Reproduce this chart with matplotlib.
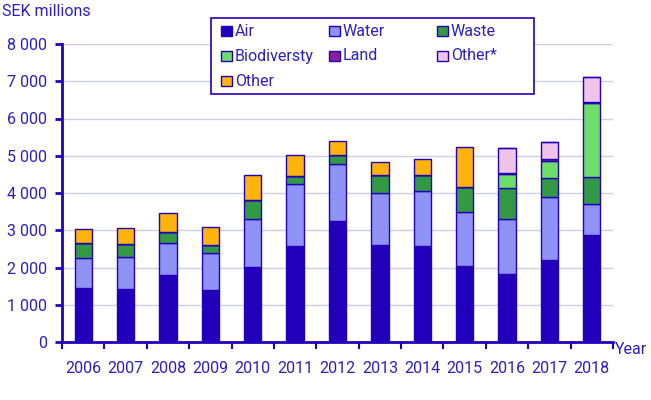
import matplotlib
matplotlib.use("Agg")
import matplotlib.pyplot as plt
from matplotlib.patches import Rectangle
import numpy as np

plt.rcParams["font.family"] = ["Roboto", "DejaVu Sans"]

YEARS = ["2006", "2007", "2008", "2009", "2010", "2011", "2012",
         "2013", "2014", "2015", "2016", "2017", "2018"]

AIR = [1460, 1430, 1790, 1405, 2025, 2590, 3235, 2615, 2590, 2050, 1835, 2210, 2860]
WATER = [800, 855, 870, 985, 1280, 1655, 1550, 1390, 1470, 1445, 1470, 1690, 850]
WASTE = [400, 350, 295, 215, 510, 215, 225, 485, 430, 670, 835, 510, 725]
BIODIV = [0, 0, 0, 0, 0, 0, 0, 0, 0, 0, 375, 455, 1980]
LAND = [0, 0, 0, 0, 0, 0, 0, 0, 0, 0, 25, 50, 35]
OTHER_STAR = [0, 0, 0, 0, 0, 0, 0, 0, 0, 0, 675, 455, 660]
OTHER = [380, 430, 510, 485, 670, 565, 395, 350, 430, 1075, 0, 0, 0]

SERIES = [
    ("Air", AIR, "#2200BB"),
    ("Water", WATER, "#8F93F5"),
    ("Waste", WASTE, "#339944"),
    ("Biodiversty", BIODIV, "#6EDE6A"),
    ("Land", LAND, "#882299"),
    ("Other*", OTHER_STAR, "#F0C4E8"),
    ("Other", OTHER, "#FFB30D"),
]

BLUE = "#2200BB"
TEXT = "#2A1FCC"
FS = 11.5
W, H = 651, 400

fig = plt.figure(figsize=(W / 100, H / 100), dpi=100)
ax = fig.add_axes([62 / W, 58 / H, 551 / W, 298 / H])

x = np.arange(len(YEARS))
bottom = np.zeros(len(YEARS))
for name, vals, col in SERIES:
    vals = np.array(vals, dtype=float)
    ax.bar(x, vals, width=0.41, bottom=bottom, color=col,
           edgecolor=BLUE, linewidth=1.0, label=name, zorder=3)
    bottom += vals

ax.set_xlim(-0.5, len(YEARS) - 0.5)
ax.set_ylim(0, 8000)
ax.set_yticks(np.arange(0, 8001, 1000))
ax.set_yticklabels([f"{v:,}".replace(",", " ") for v in range(0, 8001, 1000)])
ax.yaxis.grid(True, color="#D0CEF0", linewidth=1.0, zorder=0)

ax.set_xticks(x)
ax.set_xticklabels(YEARS)
ax.set_xticks(np.arange(-0.5, len(YEARS), 1.0), minor=True)
ax.tick_params(axis="x", which="major", length=0, pad=14, labelsize=FS, labelcolor=TEXT)
ax.tick_params(axis="x", which="minor", length=5, width=1.5, color=BLUE, direction="out")
ax.tick_params(axis="y", length=5, width=2, color=BLUE, labelsize=FS, labelcolor=TEXT, pad=6)

for s in ["top", "right"]:
    ax.spines[s].set_visible(False)
for s in ["left", "bottom"]:
    ax.spines[s].set_color(BLUE)
    ax.spines[s].set_linewidth(2)

fig.text(2 / W, 1 - 12 / H, "SEK millions", color=TEXT, fontsize=FS, va="center", ha="left")
fig.text(615 / W, 1 - 350 / H, "Year", color=TEXT, fontsize=FS, va="center", ha="left")

# legend drawn by hand: 3 columns, filled row by row
fig.patches.append(Rectangle((211 / W, 1 - 94 / H), 323 / W, 76 / H, transform=fig.transFigure,
                             facecolor="white", edgecolor=BLUE, linewidth=1.2, zorder=5))
col_x = [221, 329, 437]
row_y = [31, 56, 81]
for i, (name, vals, col) in enumerate(SERIES):
    cx = col_x[i % 3]
    cy = row_y[i // 3]
    fig.patches.append(Rectangle((cx / W, 1 - (cy + 5) / H), 11 / W, 10 / H,
                                 transform=fig.transFigure, facecolor=col,
                                 edgecolor=BLUE, linewidth=1.0, zorder=6))
    fig.text((cx + 14) / W, 1 - cy / H, name, color=TEXT, fontsize=FS,
             va="center", ha="left", zorder=7)

fig.savefig("out.png", dpi=100)
